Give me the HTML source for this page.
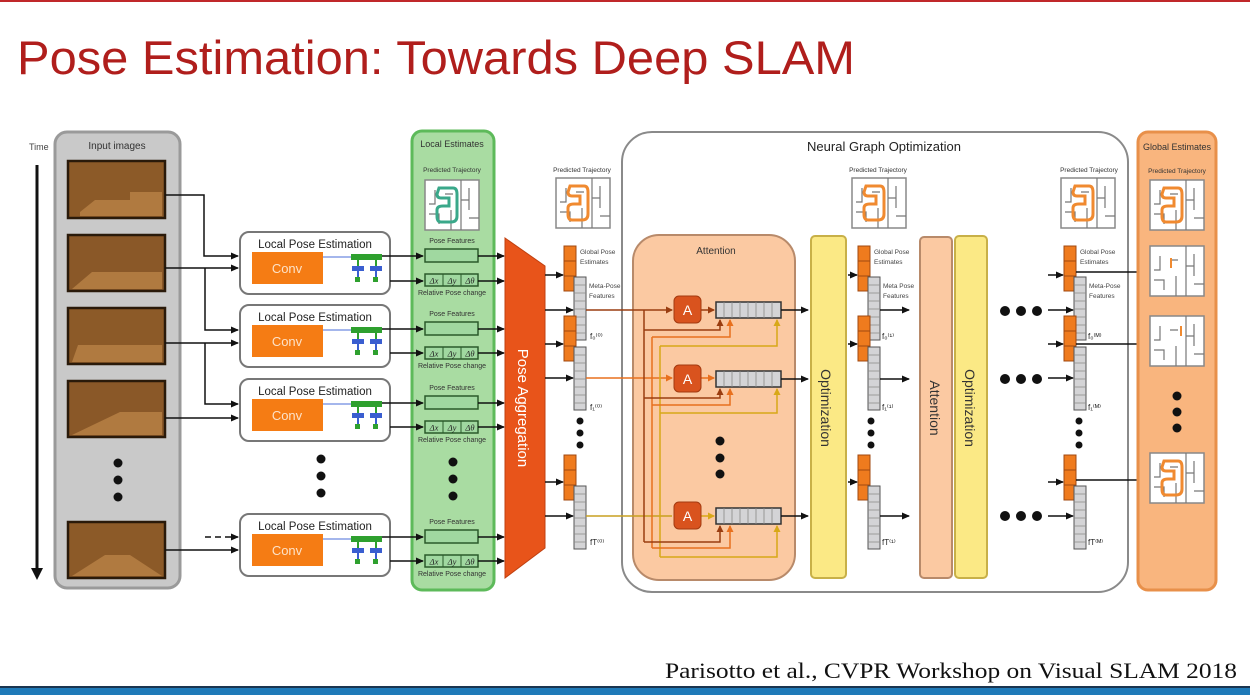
<!DOCTYPE html>
<html><head><meta charset="utf-8"><style>
html,body{margin:0;padding:0;background:#fff}
svg{display:block}
</style></head><body>
<svg width="1250" height="695" viewBox="0 0 1250 695" xmlns="http://www.w3.org/2000/svg" font-family="Liberation Sans, sans-serif">
<defs>
<marker id="ah" markerWidth="8" markerHeight="8" refX="7" refY="4" orient="auto" markerUnits="userSpaceOnUse"><path d="M0,0.5 L8,4 L0,7.5z" fill="#111"/></marker>
<marker id="ahb" markerWidth="7" markerHeight="7" refX="6" refY="3.5" orient="auto" markerUnits="userSpaceOnUse"><path d="M0,0 L7,3.5 L0,7z" fill="#9a3d10"/></marker>
<marker id="aho" markerWidth="7" markerHeight="7" refX="6" refY="3.5" orient="auto" markerUnits="userSpaceOnUse"><path d="M0,0 L7,3.5 L0,7z" fill="#e8701e"/></marker>
<marker id="ahy" markerWidth="7" markerHeight="7" refX="6" refY="3.5" orient="auto" markerUnits="userSpaceOnUse"><path d="M0,0 L7,3.5 L0,7z" fill="#d8a818"/></marker>
<g id="maze">
<rect x="0" y="0" width="54" height="50" fill="#fff" stroke="#888" stroke-width="1.5"/>
<path d="M36,0 V50 M36,20 H44 M44,8 V30 M10,10 V24 H4 M4,34 H14 V44 M26,30 V50 M44,38 H54 M20,14 H28" stroke="#777" stroke-width="1.2" fill="none"/>
</g>
<g id="traj"><path d="M14,8 H28 Q32,8 32,14 V36 Q32,42 26,42 H16 Q12,42 12,36 V30 Q12,26 18,26 H24 V18 H16 Q12,18 12,14 Z" fill="none" stroke-width="3"/></g>
<g id="stack">
<rect x="0" y="0" width="12" height="45" fill="#ef7b1e" stroke="#a04810" stroke-width="1"/>
<path d="M0,15 H12 M0,30 H12" stroke="#a04810" stroke-width="1"/>
<rect x="10" y="31" width="12" height="63" fill="#d4d4d6" stroke="#555" stroke-width="1"/>
<path d="M10,39 H22 M10,47 H22 M10,55 H22 M10,63 H22 M10,71 H22 M10,79 H22 M10,87 H22" stroke="#888" stroke-width="0.7"/>
</g>
<g id="vec">
<rect x="0" y="0" width="65" height="16" fill="#d4d4d6" stroke="#333" stroke-width="1.5"/>
<path d="M8,0V16M16,0V16M24,0V16M32,0V16M40,0V16M48,0V16M56,0V16" stroke="#888" stroke-width="0.8"/>
</g>
<g id="abox"><rect x="0" y="0" width="27" height="27" rx="5" fill="#d9531e" stroke="#a33a10"/><text x="13.5" y="19" text-anchor="middle" font-size="14" fill="#fff">A</text></g>
<g id="lpe">
<rect x="0" y="0" width="150" height="62" rx="9" fill="#fff" stroke="#777" stroke-width="2"/>
<text x="75" y="16" text-anchor="middle" font-size="11.5" fill="#222">Local Pose  Estimation</text>
<rect x="12" y="20" width="71" height="32" fill="#f57c14"/>
<text x="47" y="41" text-anchor="middle" font-size="13" fill="#fde2c8">Conv</text>
<path d="M83,25 H111" stroke="#4a6ed8" stroke-width="1"/>
<rect x="111" y="22" width="31" height="6" fill="#2ea02e"/>
<path d="M118,28 V40 M136,28 V40" stroke="#2ea02e" stroke-width="2"/>
<rect x="112" y="34" width="12" height="5" fill="#3a5ed0"/><rect x="130" y="34" width="12" height="5" fill="#3a5ed0"/>
<path d="M118,39 V45 M136,39 V45" stroke="#3a5ed0" stroke-width="2"/>
<rect x="115" y="45" width="5" height="5" fill="#2ea02e"/><rect x="133" y="45" width="5" height="5" fill="#2ea02e"/>
</g>
<g id="le">
<text x="27" y="0" text-anchor="middle" font-size="7" fill="#333">Pose Features</text>
<rect x="0" y="6" width="53" height="13" fill="#a0d8a0" stroke="#2a5a2a" stroke-width="1.5"/>
<rect x="0" y="31" width="53" height="12" fill="#a0d8a0" stroke="#2a5a2a" stroke-width="1.5"/>
<path d="M18,31V43M36,31V43" stroke="#2a5a2a" stroke-width="1"/>
<text x="9" y="40.5" text-anchor="middle" font-size="8.5" font-family="Liberation Serif, serif" font-style="italic" fill="#222">Δx</text>
<text x="27" y="40.5" text-anchor="middle" font-size="8.5" font-family="Liberation Serif, serif" font-style="italic" fill="#222">Δy</text>
<text x="45" y="40.5" text-anchor="middle" font-size="8.5" font-family="Liberation Serif, serif" font-style="italic" fill="#222">Δθ</text>
<text x="27" y="52" text-anchor="middle" font-size="7" fill="#333">Relative Pose change</text>
</g>
</defs>

<rect x="0" y="0" width="1250" height="2" fill="#c0282a"/>
<rect x="0" y="688" width="1250" height="7" fill="#1f7ab8"/>
<rect x="0" y="686" width="1250" height="2" fill="#1a3550"/>

<text x="17" y="74" font-size="47" fill="#b01e1c" textLength="838" lengthAdjust="spacingAndGlyphs">Pose Estimation: Towards Deep SLAM</text>
<text x="665" y="678" font-size="22" font-family="Liberation Serif, serif" fill="#111" textLength="572" lengthAdjust="spacingAndGlyphs">Parisotto et al.,  CVPR Workshop on Visual SLAM 2018</text>

<!-- Time -->
<text x="29" y="150" font-size="9" fill="#444">Time</text>
<path d="M37,165 V570" stroke="#111" stroke-width="3"/>
<path d="M31,568 L37,580 L43,568z" fill="#111"/>

<!-- Input images -->
<rect x="55" y="132" width="125" height="456" rx="12" fill="#c9c9c9" stroke="#9a9a9a" stroke-width="3"/>
<text x="117" y="149" text-anchor="middle" font-size="10" fill="#333">Input images</text>
<g stroke="#2a1a0a" stroke-width="2.5">
<rect x="68" y="161" width="97" height="57" fill="#8c5a28"/>
<rect x="68" y="235" width="97" height="56" fill="#8a5828"/>
<rect x="68" y="308" width="97" height="56" fill="#8c5a28"/>
<rect x="68" y="381" width="97" height="56" fill="#8a5828"/>
<rect x="68" y="522" width="97" height="56" fill="#8c5a28"/>
</g>
<g fill="#b07a40">
<path d="M80,212 L95,200 H130 V192 H162 V216 H80z"/>
<path d="M72,289 L92,272 H162 V289z"/>
<path d="M72,362 L78,345 H162 V362z"/>
<path d="M72,435 L120,412 H162 V435z"/>
<path d="M72,576 L105,555 H130 L162,576z"/>
</g>
<g fill="#111"><circle cx="118" cy="463" r="4.5"/><circle cx="118" cy="480" r="4.5"/><circle cx="118" cy="497" r="4.5"/></g>

<!-- connectors images->LPE -->
<g stroke="#111" stroke-width="1.5" fill="none">
<path d="M165,195 H204 V256 H238" marker-end="url(#ah)"/>
<path d="M165,268 H238" marker-end="url(#ah)"/>
<path d="M205,268 V330 H238" marker-end="url(#ah)"/>
<path d="M165,343 H238" marker-end="url(#ah)"/>
<path d="M205,343 V404 H238" marker-end="url(#ah)"/>
<path d="M165,418 H238" marker-end="url(#ah)"/>
<path d="M165,550 H238" marker-end="url(#ah)"/>
<path d="M205,537 H238" stroke-dasharray="6,4" marker-end="url(#ah)"/>
</g>

<!-- LPE boxes -->
<use href="#lpe" x="240" y="232"/>
<use href="#lpe" x="240" y="305"/>
<use href="#lpe" x="240" y="379"/>
<use href="#lpe" x="240" y="514"/>
<g fill="#111"><circle cx="321" cy="459" r="4.5"/><circle cx="321" cy="476" r="4.5"/><circle cx="321" cy="493" r="4.5"/></g>

<!-- Local estimates -->
<rect x="412" y="131" width="82" height="459" rx="10" fill="#a9dca2" stroke="#5dba5a" stroke-width="3"/>
<text x="452" y="147" text-anchor="middle" font-size="9" fill="#333">Local Estimates</text>
<text x="452" y="172" text-anchor="middle" font-size="6.5" fill="#333">Predicted Trajectory</text>
<use href="#maze" x="425" y="180"/>
<use href="#traj" x="425" y="180" stroke="#3aa88a"/>
<use href="#le" x="425" y="243"/>
<use href="#le" x="425" y="316"/>
<use href="#le" x="425" y="390"/>
<use href="#le" x="425" y="524"/>
<g fill="#111"><circle cx="453" cy="462" r="4.5"/><circle cx="453" cy="479" r="4.5"/><circle cx="453" cy="496" r="4.5"/></g>
<g stroke="#111" stroke-width="1.5" fill="none">
<path d="M382,256 H423" marker-end="url(#ah)"/><path d="M390,281 H423" marker-end="url(#ah)"/>
<path d="M382,329 H423" marker-end="url(#ah)"/><path d="M390,353 H423" marker-end="url(#ah)"/>
<path d="M382,403 H423" marker-end="url(#ah)"/><path d="M390,427 H423" marker-end="url(#ah)"/>
<path d="M382,537 H423" marker-end="url(#ah)"/><path d="M390,561 H423" marker-end="url(#ah)"/>
<path d="M478,256 H504" marker-end="url(#ah)"/><path d="M478,281 H504" marker-end="url(#ah)"/>
<path d="M478,329 H504" marker-end="url(#ah)"/><path d="M478,353 H504" marker-end="url(#ah)"/>
<path d="M478,403 H504" marker-end="url(#ah)"/><path d="M478,427 H504" marker-end="url(#ah)"/>
<path d="M478,537 H504" marker-end="url(#ah)"/><path d="M478,561 H504" marker-end="url(#ah)"/>
</g>

<!-- Pose aggregation -->
<path d="M505,238 L545,266 L545,548 L505,578z" fill="#e8541a" stroke="#c04010"/>
<text transform="translate(518,408) rotate(90)" text-anchor="middle" font-size="15" fill="#fff">Pose Aggregation</text>

<!-- stack column 0 -->
<text x="582" y="172" text-anchor="middle" font-size="6.5" fill="#333">Predicted Trajectory</text>
<use href="#maze" x="556" y="178"/>
<use href="#traj" x="556" y="178" stroke="#f08a30"/>
<use href="#stack" x="564" y="246"/>
<use href="#stack" x="564" y="316"/>
<use href="#stack" x="564" y="455"/>
<g font-size="6.5" fill="#444">
<text x="580" y="254">Global Pose</text><text x="580" y="264">Estimates</text>
<text x="589" y="288">Meta-Pose</text><text x="589" y="298">Features</text>
</g>
<g font-size="8" fill="#222"><text x="590" y="339">f₀⁽⁰⁾</text><text x="590" y="410">f₁⁽⁰⁾</text><text x="590" y="545">fT⁽⁰⁾</text></g>
<g fill="#111"><circle cx="580" cy="421" r="3.5"/><circle cx="580" cy="433" r="3.5"/><circle cx="580" cy="445" r="3.5"/></g>
<g stroke="#111" stroke-width="1.5" fill="none">
<path d="M545,275 H563" marker-end="url(#ah)"/><path d="M545,310 H573" marker-end="url(#ah)"/>
<path d="M545,344 H563" marker-end="url(#ah)"/><path d="M545,378 H573" marker-end="url(#ah)"/>
<path d="M545,482 H563" marker-end="url(#ah)"/><path d="M545,516 H573" marker-end="url(#ah)"/>
</g>

<!-- NGO panel -->
<rect x="622" y="132" width="506" height="460" rx="30" fill="#fff" stroke="#8a8a8a" stroke-width="2"/>
<text x="884" y="151" text-anchor="middle" font-size="13" fill="#222">Neural Graph Optimization</text>

<!-- Attention -->
<rect x="633" y="235" width="162" height="345" rx="26" fill="#fbc9a2" stroke="#b88a6a" stroke-width="2"/>
<text x="716" y="254" text-anchor="middle" font-size="10" fill="#333">Attention</text>
<g fill="none" stroke-width="1.5">
<path d="M586,310 H672" stroke="#9a3d10" marker-end="url(#ahb)"/>
<path d="M586,378 H672" stroke="#e8701e" marker-end="url(#aho)"/>
<path d="M586,516 H672" stroke="#c8a020"/>
<path d="M701,310 H714" stroke="#9a3d10" marker-end="url(#ahb)"/>
<path d="M701,378 H714" stroke="#e8701e" marker-end="url(#aho)"/>
<path d="M701,516 H714" stroke="#d8a818" marker-end="url(#ahy)"/>
<path d="M644,310 V542" stroke="#9a3d10"/>
<path d="M652,337 V548" stroke="#e8701e"/>
<path d="M660,346 V557" stroke="#d8a818"/>
<path d="M644,330 H720 V320" stroke="#9a3d10" marker-end="url(#ahb)"/>
<path d="M652,337 H730 V320" stroke="#e8701e" marker-end="url(#aho)"/>
<path d="M660,346 H777 V320" stroke="#d8a818" marker-end="url(#ahy)"/>
<path d="M644,398 H720 V389" stroke="#9a3d10" marker-end="url(#ahb)"/>
<path d="M652,405 H730 V389" stroke="#e8701e" marker-end="url(#aho)"/>
<path d="M660,413 H777 V389" stroke="#d8a818" marker-end="url(#ahy)"/>
<path d="M644,542 H720 V526" stroke="#9a3d10" marker-end="url(#ahb)"/>
<path d="M652,548 H730 V526" stroke="#e8701e" marker-end="url(#aho)"/>
<path d="M660,557 H777 V526" stroke="#d8a818" marker-end="url(#ahy)"/>
</g>
<use href="#abox" x="674" y="296"/>
<use href="#abox" x="674" y="365"/>
<use href="#abox" x="674" y="502"/>
<use href="#vec" x="716" y="302"/>
<use href="#vec" x="716" y="371"/>
<use href="#vec" x="716" y="508"/>
<g fill="#111"><circle cx="720" cy="441" r="4.5"/><circle cx="720" cy="458" r="4.5"/><circle cx="720" cy="474" r="4.5"/></g>
<g stroke="#111" stroke-width="1.5" fill="none">
<path d="M781,310 H808" marker-end="url(#ah)"/><path d="M781,379 H808" marker-end="url(#ah)"/><path d="M781,516 H808" marker-end="url(#ah)"/>
</g>

<!-- Optimization 1 -->
<rect x="811" y="236" width="35" height="342" rx="4" fill="#fbe985" stroke="#c8b048" stroke-width="2"/>
<text transform="translate(821,408) rotate(90)" text-anchor="middle" font-size="14" fill="#333">Optimization</text>

<!-- stack column 1 -->
<text x="878" y="172" text-anchor="middle" font-size="6.5" fill="#333">Predicted Trajectory</text>
<use href="#maze" x="852" y="178"/>
<use href="#traj" x="852" y="178" stroke="#f08a30"/>
<use href="#stack" x="858" y="246"/>
<use href="#stack" x="858" y="316"/>
<use href="#stack" x="858" y="455"/>
<g font-size="6.5" fill="#444">
<text x="874" y="254">Global Pose</text><text x="874" y="264">Estimates</text>
<text x="883" y="288">Meta Pose</text><text x="883" y="298">Features</text>
</g>
<g font-size="8" fill="#222"><text x="882" y="339">f₀⁽¹⁾</text><text x="882" y="410">f₁⁽¹⁾</text><text x="882" y="545">fT⁽¹⁾</text></g>
<g fill="#111"><circle cx="871" cy="421" r="3.5"/><circle cx="871" cy="433" r="3.5"/><circle cx="871" cy="445" r="3.5"/></g>
<g stroke="#111" stroke-width="1.5" fill="none">
<path d="M848,275 H857" marker-end="url(#ah)"/><path d="M848,344 H857" marker-end="url(#ah)"/><path d="M848,482 H857" marker-end="url(#ah)"/>
<path d="M880,310 H909" marker-end="url(#ah)"/><path d="M880,379 H909" marker-end="url(#ah)"/><path d="M880,516 H909" marker-end="url(#ah)"/>
</g>

<!-- Attention 2 & Optimization 2 -->
<rect x="920" y="237" width="32" height="341" rx="4" fill="#fbc9a2" stroke="#b88a6a" stroke-width="2"/>
<text transform="translate(930,408) rotate(90)" text-anchor="middle" font-size="14" fill="#333">Attention</text>
<rect x="955" y="236" width="32" height="342" rx="4" fill="#fbe985" stroke="#c8b048" stroke-width="2"/>
<text transform="translate(965,408) rotate(90)" text-anchor="middle" font-size="14" fill="#333">Optimization</text>

<g fill="#111">
<circle cx="1005" cy="311" r="5"/><circle cx="1021" cy="311" r="5"/><circle cx="1037" cy="311" r="5"/>
<circle cx="1005" cy="379" r="5"/><circle cx="1021" cy="379" r="5"/><circle cx="1037" cy="379" r="5"/>
<circle cx="1005" cy="516" r="5"/><circle cx="1021" cy="516" r="5"/><circle cx="1037" cy="516" r="5"/>
</g>

<!-- stack column M -->
<text x="1089" y="172" text-anchor="middle" font-size="6.5" fill="#333">Predicted Trajectory</text>
<use href="#maze" x="1061" y="178"/>
<use href="#traj" x="1061" y="178" stroke="#f08a30"/>
<use href="#stack" x="1064" y="246"/>
<use href="#stack" x="1064" y="316"/>
<use href="#stack" x="1064" y="455"/>
<g font-size="6.5" fill="#444">
<text x="1080" y="254">Global Pose</text><text x="1080" y="264">Estimates</text>
<text x="1089" y="288">Meta-Pose</text><text x="1089" y="298">Features</text>
</g>
<g font-size="8" fill="#222"><text x="1088" y="339">f₀⁽ᴹ⁾</text><text x="1088" y="410">f₁⁽ᴹ⁾</text><text x="1088" y="545">fT⁽ᴹ⁾</text></g>
<g fill="#111"><circle cx="1079" cy="421" r="3.5"/><circle cx="1079" cy="433" r="3.5"/><circle cx="1079" cy="445" r="3.5"/></g>
<g stroke="#111" stroke-width="1.5" fill="none">
<path d="M1048,275 H1063" marker-end="url(#ah)"/><path d="M1048,310 H1073" marker-end="url(#ah)"/>
<path d="M1048,344 H1063" marker-end="url(#ah)"/><path d="M1048,378 H1073" marker-end="url(#ah)"/>
<path d="M1048,482 H1063" marker-end="url(#ah)"/><path d="M1048,516 H1073" marker-end="url(#ah)"/>
<path d="M1076,272 H1149" marker-end="url(#ah)"/>
<path d="M1076,344 H1149" marker-end="url(#ah)"/>
<path d="M1076,480 H1149" marker-end="url(#ah)"/>
</g>

<!-- Global estimates -->
<rect x="1138" y="132" width="78" height="458" rx="10" fill="#f9b57e" stroke="#e8904a" stroke-width="3"/>
<text x="1177" y="150" text-anchor="middle" font-size="9" fill="#333">Global Estimates</text>
<text x="1177" y="173" text-anchor="middle" font-size="6.5" fill="#333">Predicted Trajectory</text>
<use href="#maze" x="1150" y="180"/>
<use href="#traj" x="1150" y="180" stroke="#f08a30"/>
<use href="#maze" x="1150" y="246"/>
<path d="M1171,268 V258" stroke="#f08a30" stroke-width="2"/>
<use href="#maze" x="1150" y="316"/>
<path d="M1181,336 V326" stroke="#f08a30" stroke-width="2"/>
<use href="#maze" x="1150" y="453"/>
<use href="#traj" x="1150" y="453" stroke="#f08a30"/>
<g fill="#111"><circle cx="1177" cy="396" r="4.5"/><circle cx="1177" cy="412" r="4.5"/><circle cx="1177" cy="428" r="4.5"/></g>
</svg>
</body></html>
